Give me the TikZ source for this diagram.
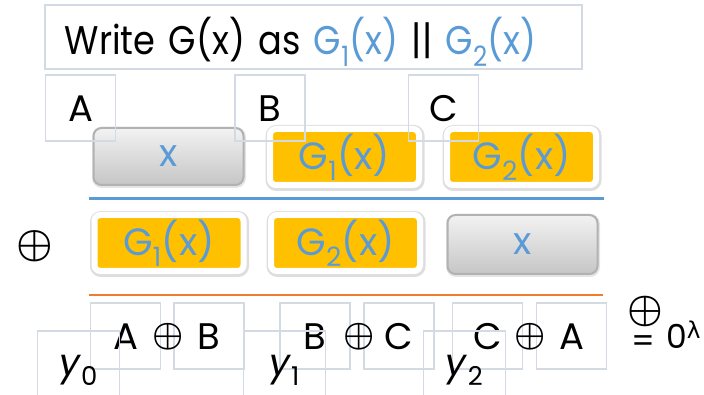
\documentclass[tikz,border=0pt]{standalone}
\usepackage{graphicx}
\usepackage{fontspec}
\setmainfont{Poppins}
\newfontfamily\symfont{DejaVu Sans}
\definecolor{hintgray}{HTML}{D3DAE4}
\definecolor{keyblue}{HTML}{5B9BD5}
\definecolor{lineorange}{HTML}{ED7D31}
\definecolor{keygold}{HTML}{FFC000}
\newcommand{\bigxor}[1]{\scalebox{#1}{\boldmath$\oplus$}}

\begin{document}
\begin{tikzpicture}[x=1pt, y=-1pt,
    tag/.style={draw=hintgray, line width=1.5pt, minimum width=70pt, minimum height=66pt, inner sep=0pt, text height=26pt, text depth=0pt, font=\fontsize{37}{40}\selectfont},
    ytag/.style={tag, minimum width=82pt, text height=32pt, text depth=9pt},
    xblock/.style={rounded corners=8pt, draw=gray!60, line width=2pt, top color=gray!10, bottom color=gray!45, minimum width=150pt, minimum height=57pt, inner sep=0pt, text=keyblue, font=\fontsize{38}{40}\selectfont,
        preaction={draw=black, line width=4pt, opacity=0.1, transform canvas={xshift=0.5pt, yshift=-1pt}}},
    gblock/.style={rounded corners=6pt, draw=white, line width=6pt, fill=keygold, minimum width=149pt, minimum height=56pt, inner sep=0pt, text=keyblue, font=\fontsize{38}{40}\selectfont,
        preaction={draw=black, fill=black, line width=10pt, opacity=0.13, transform canvas={xshift=0.5pt, yshift=-1pt}}},
    xorsign/.style={inner sep=0pt}
]
    \useasboundingbox (0,0) rectangle (704,395);

    % the two rows
    \node[xblock] (x1) at (168.5,156.5) {x};
    \node[gblock] (g11) at (344.5,157) {G\textsubscript{1}(x)};
    \node[gblock] (g21) at (521.5,157) {G\textsubscript{2}(x)};

    \node[xorsign] (xorleft) at (35,246) {\bigxor{4.1}};
    \node[gblock] (g12) at (169,243) {G\textsubscript{1}(x)};
    \node[gblock] (g22) at (345.5,243) {G\textsubscript{2}(x)};
    \node[xblock, minimum height=59pt] (x2) at (522.5,244.5) {x};

    \draw[keyblue, line width=2.5pt] (89,198.5) -- (604,198.5);
    \draw[lineorange, line width=2.5pt] (89,295) -- (603,295);

    % heading and labels
    \node[tag, anchor=west, minimum width=537pt, minimum height=64pt, text width=497pt, inner xsep=20pt, align=left, text height=35pt, font=\fontsize{40}{42}\selectfont\addfontfeatures{FakeStretch=0.88}] (heading) at (44,37)
        {Write G(x) as \textcolor{keyblue}{G\textsubscript{1}(x)} || \textcolor{keyblue}{G\textsubscript{2}(x)}};
    \node[tag, text height=28pt] (la) at (80.5,108) {A};
    \node[tag, text height=28pt] (lb) at (270,108) {B};
    \node[tag, text height=28pt] (lc) at (443.5,108) {C};

    % sums
    \node[tag] (s1) at (125.5,336) {A};
    \node[tag] (s2) at (209,336) {B};
    \node[tag] (s3) at (315,336) {B};
    \node[tag] (s4) at (399,336) {C};
    \node[tag] (s5) at (487.5,336) {C};
    \node[tag] (s6) at (571.5,336) {A};
    \node[xorsign] (xor1) at (168,337) {\bigxor{3.5}};
    \node[xorsign] (xor2) at (359,337) {\bigxor{3.5}};
    \node[xorsign] (xor3) at (530,337) {\bigxor{3.5}};

    \node[ytag] (y0) at (78.5,364) {\textit{y}\textsubscript{0}};
    \node[ytag] (y1) at (284.5,364) {\textit{y}\textsubscript{1}};
    \node[ytag] (y2) at (464.5,364) {\textit{y}\textsubscript{2}};

    \node[xorsign] (xortop) at (645,312) {\bigxor{4}};
    \node[inner sep=0pt, font=\fontsize{33}{36}\selectfont] (eqsign) at (643,344) {=};
    \node[inner sep=0pt, anchor=base west, font=\fontsize{33}{36}\selectfont] (zerolam) at (666,348) {0\textsuperscript{\symfont λ}};
\end{tikzpicture}
\end{document}
